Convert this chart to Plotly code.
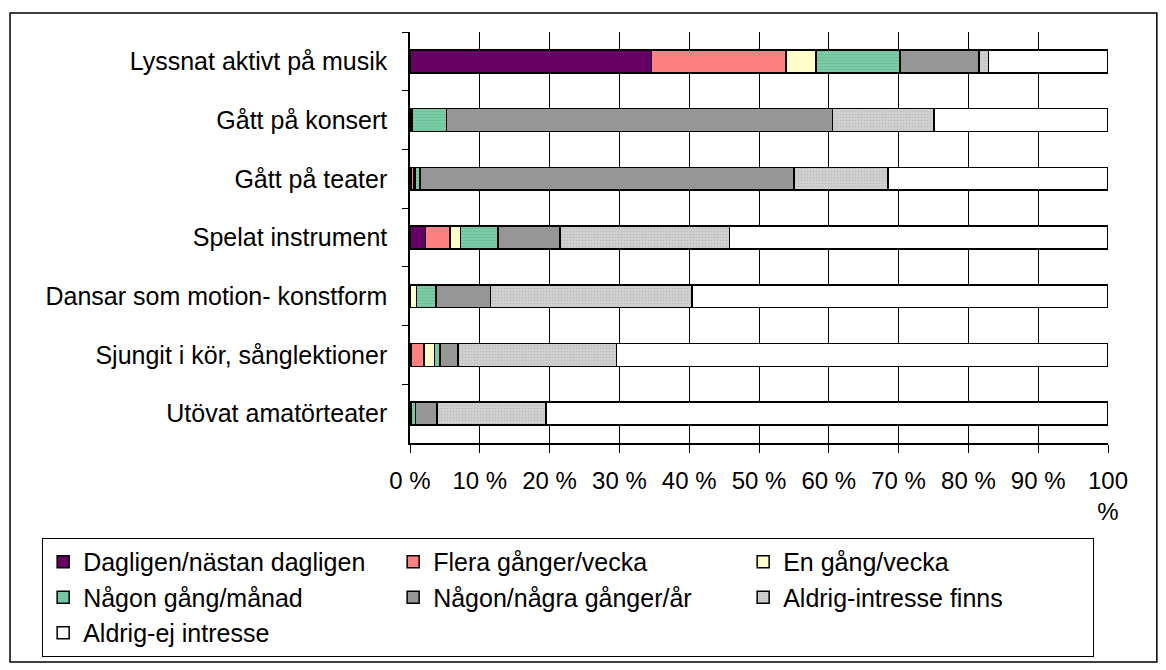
import plotly.graph_objects as go

categories = [
    "Lyssnat aktivt på musik",
    "Gått på konsert",
    "Gått på teater",
    "Spelat instrument",
    "Dansar som motion- konstform",
    "Sjungit i kör, sånglektioner",
    "Utövat amatörteater",
]

series_names = [
    "Dagligen/nästan dagligen",
    "Flera gånger/vecka",
    "En gång/vecka",
    "Någon gång/månad",
    "Någon/några gånger/år",
    "Aldrig-intresse finns",
    "Aldrig-ej intresse",
]

# percent per category, same order as categories
dagligen = [34.6, 0.0, 0.2, 2.2, 0.1, 0.2, 0.0]
flera = [19.3, 0.1, 0.3, 3.5, 0.0, 1.8, 0.1]
en_gang = [4.3, 0.2, 0.2, 1.5, 0.8, 1.5, 0.1]
manad = [12.0, 4.9, 0.7, 5.4, 2.8, 0.8, 0.6]
ar = [11.3, 55.3, 53.6, 8.9, 7.8, 2.6, 3.1]
aldrig_intresse = [1.4, 14.6, 13.5, 24.3, 28.9, 22.7, 15.6]
aldrig_ej = [17.1, 24.9, 31.5, 54.2, 59.6, 70.4, 80.5]

tick_vals = [0, 10, 20, 30, 40, 50, 60, 70, 80, 90, 100]
tick_text = ["0 %", "10 %", "20 %", "30 %", "40 %", "50 %", "60 %",
             "70 %", "80 %", "90 %", "100<br>%"]

series = [dagligen, flera, en_gang, manad, ar, aldrig_intresse, aldrig_ej]
colors = ["#660066", "#FF8080", "#FFFFCC", "#7BCBA6", "#969696", "#D0D0D0", "#FFFFFF"]
patterns = [None, None, None,
            dict(shape="-", fgcolor="#5DB58E", size=3, solidity=0.3),
            None,
            dict(shape=".", fgcolor="#A8A8A8", size=3, solidity=0.25),
            None]

FONT = "Liberation Sans, Arial, sans-serif"

fig = go.Figure()
for name, vals, color, pat in zip(series_names, series, colors, patterns):
    marker = dict(color=color, line=dict(color="black", width=1.5))
    if pat:
        marker["pattern"] = pat
    fig.add_trace(go.Bar(y=categories, x=vals, name=name, orientation="h",
                         marker=marker))

# outer frame of the chart
fig.add_shape(type="rect", xref="paper", yref="paper",
              x0=-0.573, x1=1.07, y0=-0.533, y1=1.046,
              line=dict(color="black", width=1.5), layer="below")

fig.update_layout(
    width=1166, height=670,
    margin=dict(l=402, r=66, t=24, b=235, autoexpand=False),
    barmode="stack", bargap=0.61,
    plot_bgcolor="white", paper_bgcolor="white",
    font=dict(family=FONT, size=25, color="black"),
    showlegend=True,
    legend=dict(orientation="h", x=-0.527, xanchor="left", y=-0.231, yanchor="top",
                bordercolor="black", borderwidth=1, entrywidth=305,
                font=dict(size=25), traceorder="normal", itemclick=False,
                tracegroupgap=0),
    xaxis=dict(range=[0, 100], tickvals=tick_vals, ticktext=tick_text,
               showgrid=True, gridcolor="black", gridwidth=1,
               showline=True, linecolor="black", linewidth=1.5,
               ticks="outside", ticklen=8, tickcolor="black", zeroline=False,
               ticklabelstandoff=7, tickfont=dict(size=24), fixedrange=True),
    yaxis=dict(autorange="reversed", showline=True, linecolor="black", linewidth=1.5,
               ticks="outside", ticklen=6, tickcolor="black", tickson="boundaries",
               ticklabelstandoff=16, showgrid=False, fixedrange=True),
)

fig.write_html("out.html")
